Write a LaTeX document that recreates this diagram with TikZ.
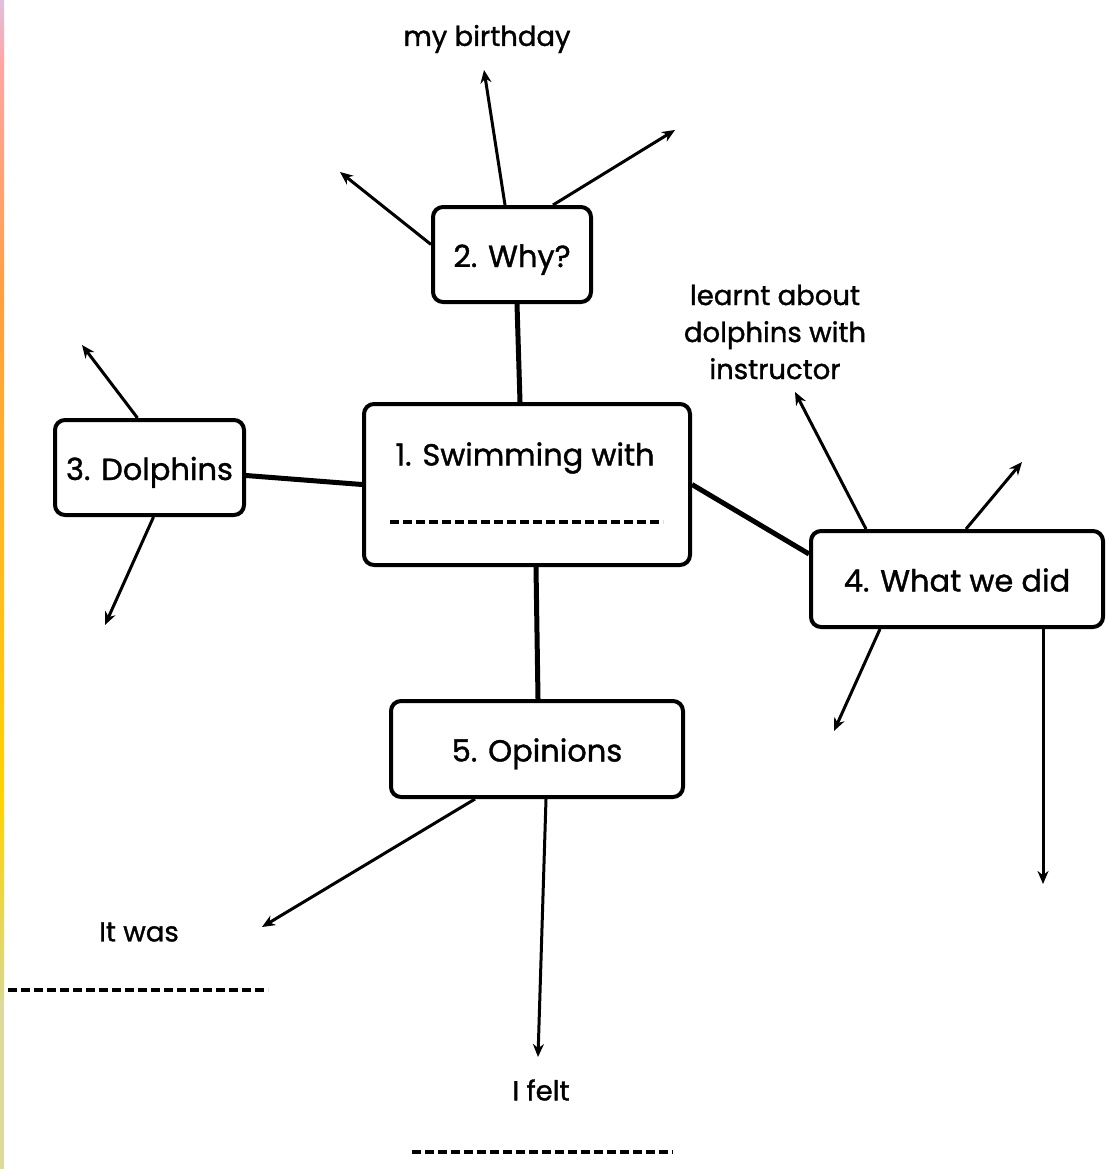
\documentclass[tikz,border=0pt]{standalone}
\usepackage{fontspec}
\setmainfont{Poppins}[FakeBold=1.2]
\usetikzlibrary{arrows.meta,calc}

\begin{document}
\begin{tikzpicture}[x=1pt,y=-1pt,
  box/.style={draw,line width=4pt,rounded corners=10pt,fill=white,
    font=\fontsize{30.5}{36}\selectfont,inner sep=0pt,text height=28pt,text depth=3pt},
  link/.style={line width=5pt},
  arr/.style={line width=3pt,-{Stealth[length=13pt,width=11pt]}},
  lbl/.style={font=\fontsize{27.5}{37}\selectfont,align=center,inner sep=0pt},
  blank/.style={line width=3.2pt,dash pattern=on 9pt off 4pt}]

% page
\useasboundingbox (0,0) rectangle (1105,1169);
\fill[white] (0,0) rectangle (1105,1169);

% coloured strip along the left edge
\shade[top color=violet!25,bottom color=red!35] (0,0) rectangle (4,60);
\shade[top color=red!35,bottom color=orange!75] (0,60) rectangle (4,300);
\shade[top color=orange!75,bottom color=yellow!65!orange] (0,300) rectangle (4,800);
\shade[top color=yellow!65!orange,bottom color=olive!30] (0,800) rectangle (4,1000);
\fill[olive!30] (0,1000) rectangle (4,1169);

% boxes
\node[box,minimum width=158pt,minimum height=95pt] (why) at (512,254.5) {2. Why?};
\node[box,minimum width=326pt,minimum height=161pt] (swim) at (527,484.5) {};
\node[box,minimum width=189pt,minimum height=95pt] (dol) at (149.5,467.5) {3. Dolphins};
\node[box,minimum width=292pt,minimum height=96pt] (did) at (957,579) {4. What we did};
\node[box,minimum width=292pt,minimum height=96pt] (opi) at (537,749) {5. Opinions};

% contents of the central box
\node[font=\fontsize{30.5}{36}\selectfont,inner sep=0pt,text height=22pt,text depth=5pt] (swimtxt) at (525,457) {1. Swimming with};
\coordinate (sl) at (390,522);
\coordinate (sr) at (663,522);
\draw[blank] (sl) -- (sr);

% links between boxes
\draw[link] ([xshift=5pt]why.south) -- ([xshift=-7pt]swim.north);
\draw[link] ([yshift=-8pt]dol.east) -- (swim.west);
\draw[link] (swim.east) -- ($(did.north west)!0.25!(did.south west)$);
\draw[link] ([xshift=9pt]swim.south) -- ([xshift=1pt]opi.north);

% labels
\node[lbl] (bday) at (487,39) {my birthday};
\node[lbl] (learnt) at (775,332) {learnt about\\dolphins with\\instructor};
\node[lbl] (itwas) at (139,932) {It was};
\node[lbl] (ifelt) at (541,1090) {I felt};
\coordinate (wl) at (8,990);
\coordinate (wr) at (268,990);
\coordinate (fl) at (412,1152);
\coordinate (fr) at (673,1152);
\draw[blank] (wl) -- (wr);
\draw[blank] (fl) -- (fr);

% free ends of the arrows
\coordinate (w1) at (484,70);
\coordinate (w2) at (675,130);
\coordinate (w3) at (340,172);
\coordinate (d1) at (82,345);
\coordinate (d2) at (105,625);
\coordinate (a1) at (795,392);
\coordinate (a2) at (1022,462);
\coordinate (a3) at (834,731);
\coordinate (a4) at (1043,884);
\coordinate (o1) at (262,927);
\coordinate (o2) at (538,1057);

% arrows
\draw[arr] ([xshift=-7pt]why.north) -- (w1);
\draw[arr] ([xshift=41pt]why.north) -- (w2);
\draw[arr] ([yshift=10pt]why.west) -- (w3);
\draw[arr] ([xshift=-12pt]dol.north) -- (d1);
\draw[arr] ([xshift=4pt]dol.south) -- (d2);
\draw[arr] ([xshift=-91pt]did.north) -- (a1);
\draw[arr] ([xshift=9pt]did.north) -- (a2);
\draw[arr] ([xshift=-77pt]did.south) -- (a3);
\draw[arr] ([xshift=86pt]did.south) -- (a4);
\draw[arr] ([xshift=-62pt]opi.south) -- (o1);
\draw[arr] ([xshift=9pt]opi.south) -- (o2);
\end{tikzpicture}
\end{document}
